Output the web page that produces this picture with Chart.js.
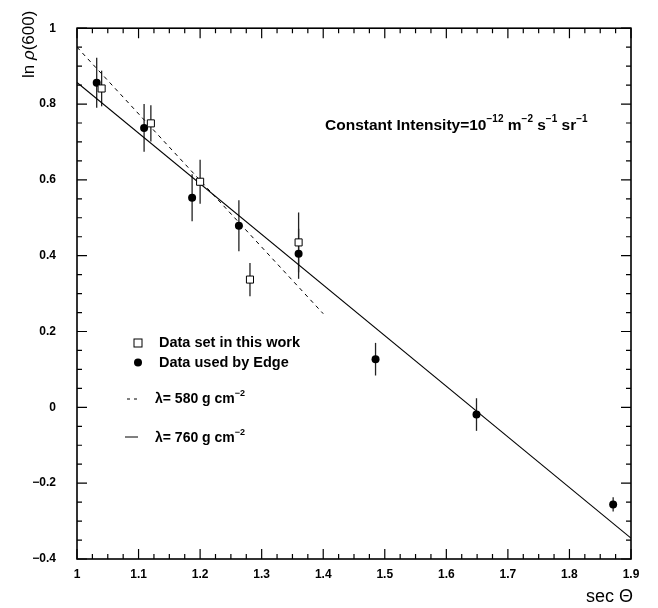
<!doctype html>
<html>
<head>
  <meta charset="utf-8">
  <title>ln rho(600) vs sec theta</title>
  <script src="https://cdn.jsdelivr.net/npm/chart.js"></script>
  <style>
    body { margin: 0; background: #fff; }
  </style>
</head>
<body>
  <canvas id="chart" width="658" height="608"></canvas>
  <script>
    // data
    const workX = [1.04, 1.12, 1.20, 1.281, 1.36];
    const workY = [0.841, 0.749, 0.595, 0.337, 0.435];
    const workErr = [0.047, 0.048, 0.058, 0.044, 0.079];

    const edgeX = [1.032, 1.109, 1.187, 1.263, 1.36, 1.485, 1.649, 1.871];
    const edgeY = [0.856, 0.737, 0.553, 0.479, 0.405, 0.127, -0.019, -0.256];
    const edgeErr = [0.066, 0.063, 0.062, 0.067, 0.066, 0.043, 0.043, 0.019];

    const fit580X = [1.0, 1.4];
    const fit580Y = [0.95, 0.247];
    const fit760X = [1.0, 1.9];
    const fit760Y = [0.857, -0.345];

    const xTicks = [1, 1.1, 1.2, 1.3, 1.4, 1.5, 1.6, 1.7, 1.8, 1.9];
    const yTicks = [-0.4, -0.2, 0, 0.2, 0.4, 0.6, 0.8, 1];

    const pts = (xs, ys) => xs.map((x, i) => ({ x: x, y: ys[i] }));
    const fmt = v => {
      const r = Math.round(v * 10) / 10;
      return r < 0 ? '\u2212' + String(-r) : String(r);
    };

    const FONT = '"Liberation Sans", Arial, sans-serif';

    // draw text pieces with superscripts, returns end x
    function drawRich(ctx, parts, x, y, size, weight) {
      const w = weight ? weight + ' ' : '';
      parts.forEach(p => {
        if (p.sup) {
          ctx.font = 'bold ' + Math.round(size * 0.62) + 'px ' + FONT;
          ctx.fillText(p.t, x, y - size * 0.42);
        } else {
          ctx.font = (p.italic ? 'italic ' : '') + w + size + 'px ' + FONT;
          ctx.fillText(p.t, x, y);
        }
        x += ctx.measureText(p.t).width;
      });
      return x;
    }

    const errorBars = {
      id: 'errorBars',
      beforeDatasetsDraw(chart) {
        const ctx = chart.ctx, xs = chart.scales.x, ys = chart.scales.y;
        ctx.save();
        ctx.strokeStyle = '#222';
        ctx.lineWidth = 1.3;
        const bars = (X, Y, E) => X.forEach((x, i) => {
          const px = xs.getPixelForValue(x);
          ctx.beginPath();
          ctx.moveTo(px, ys.getPixelForValue(Y[i] + E[i]));
          ctx.lineTo(px, ys.getPixelForValue(Y[i] - E[i]));
          ctx.stroke();
        });
        bars(edgeX, edgeY, edgeErr);
        bars(workX, workY, workErr);
        ctx.restore();
      }
    };

    const decor = {
      id: 'decor',
      afterDraw(chart) {
        const ctx = chart.ctx, a = chart.chartArea;
        const xs = chart.scales.x, ys = chart.scales.y;
        ctx.save();
        ctx.strokeStyle = '#000';
        ctx.fillStyle = '#000';

        // frame
        ctx.lineWidth = 1.6;
        ctx.strokeRect(a.left, a.top, a.right - a.left, a.bottom - a.top);

        // inward ticks, major + minor
        ctx.lineWidth = 1.2;
        ctx.beginPath();
        for (let k = 0; k <= 36; k++) {
          const v = 1 + k * 0.025;
          const px = xs.getPixelForValue(v);
          const len = k % 4 === 0 ? 10 : 5;
          ctx.moveTo(px, a.bottom); ctx.lineTo(px, a.bottom - len);
          ctx.moveTo(px, a.top); ctx.lineTo(px, a.top + len);
        }
        for (let k = 0; k <= 28; k++) {
          const v = -0.4 + k * 0.05;
          const py = ys.getPixelForValue(v);
          const len = k % 4 === 0 ? 10 : 5;
          ctx.moveTo(a.left, py); ctx.lineTo(a.left + len, py);
          ctx.moveTo(a.right, py); ctx.lineTo(a.right - len, py);
        }
        ctx.stroke();

        // legend inside the plot
        ctx.textBaseline = 'middle';
        ctx.textAlign = 'left';
        ctx.lineWidth = 1;
        ctx.fillStyle = '#fff';
        ctx.fillRect(134, 339, 8, 8);
        ctx.strokeRect(134, 339, 8, 8);
        ctx.fillStyle = '#000';
        ctx.beginPath();
        ctx.arc(138, 362.5, 4, 0, Math.PI * 2);
        ctx.fill();
        ctx.beginPath();
        ctx.setLineDash([3, 4]);
        ctx.moveTo(127, 399); ctx.lineTo(141, 399);
        ctx.stroke();
        ctx.setLineDash([]);
        ctx.beginPath();
        ctx.moveTo(125, 437); ctx.lineTo(138, 437);
        ctx.stroke();

        ctx.font = 'bold 14.5px ' + FONT;
        ctx.fillText('Data set in this work', 159, 343);
        ctx.fillText('Data used by Edge', 159, 363);
        drawRich(ctx, [{ t: '\u03bb= 580 g cm' }, { t: '\u22122', sup: true }], 155, 399, 14, 'bold');
        drawRich(ctx, [{ t: '\u03bb= 760 g cm' }, { t: '\u22122', sup: true }], 155, 438, 14, 'bold');

        // annotation
        drawRich(ctx, [
          { t: 'Constant Intensity=10' }, { t: '\u221212', sup: true },
          { t: ' m' }, { t: '\u22122', sup: true },
          { t: ' s' }, { t: '\u22121', sup: true },
          { t: ' sr' }, { t: '\u22121', sup: true }
        ], 325, 126, 15.5, 'bold');

        // axis titles
        ctx.font = '18px ' + FONT;
        ctx.textAlign = 'right';
        ctx.textBaseline = 'alphabetic';
        ctx.fillText('sec \u0398', 633, 602);

        ctx.save();
        ctx.translate(34, 78);
        ctx.rotate(-Math.PI / 2);
        ctx.textAlign = 'left';
        drawRich(ctx, [{ t: 'ln ' }, { t: '\u03c1', italic: true }, { t: '(600)' }], 0, 0, 17);
        ctx.restore();

        ctx.restore();
      }
    };

    new Chart(document.getElementById('chart'), {
      type: 'scatter',
      data: {
        datasets: [
          {
            label: 'Data set in this work',
            data: pts(workX, workY),
            pointStyle: 'rect',
            pointRadius: 5,
            backgroundColor: '#fff',
            borderColor: '#000',
            borderWidth: 1
          },
          {
            label: 'Data used by Edge',
            data: pts(edgeX, edgeY),
            pointStyle: 'circle',
            pointRadius: 4,
            backgroundColor: '#000',
            borderColor: '#000',
            borderWidth: 0
          },
          {
            label: 'lambda 580',
            data: pts(fit580X, fit580Y),
            showLine: true,
            pointRadius: 0,
            borderColor: '#000',
            borderWidth: 1,
            borderDash: [4, 4]
          },
          {
            label: 'lambda 760',
            data: pts(fit760X, fit760Y),
            showLine: true,
            pointRadius: 0,
            borderColor: '#000',
            borderWidth: 1.1
          }
        ]
      },
      options: {
        responsive: false,
        animation: false,
        layout: { padding: { top: 6, right: 27, left: 0, bottom: 0 } },
        plugins: {
          legend: { display: false },
          tooltip: { enabled: false }
        },
        scales: {
          x: {
            type: 'linear',
            min: 1,
            max: 1.9,
            afterBuildTicks: s => { s.ticks = xTicks.map(v => ({ value: v })); },
            afterFit: s => { s.height = 49; },
            grid: { display: false, drawTicks: false },
            border: { display: false },
            ticks: {
              padding: 8,
              color: '#000',
              font: { family: FONT, size: 12, weight: 'bold' },
              callback: v => fmt(v)
            }
          },
          y: {
            type: 'linear',
            min: -0.4,
            max: 1,
            afterBuildTicks: s => { s.ticks = yTicks.map(v => ({ value: v })); },
            afterFit: s => { s.width = 77; },
            grid: { display: false, drawTicks: false },
            border: { display: false },
            ticks: {
              padding: 21,
              color: '#000',
              font: { family: FONT, size: 12, weight: 'bold' },
              callback: v => fmt(v)
            }
          }
        }
      },
      plugins: [errorBars, decor]
    });
  </script>
</body>
</html>
